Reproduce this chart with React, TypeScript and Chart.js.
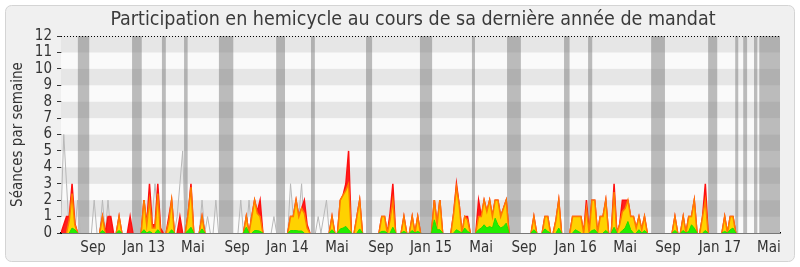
import React, { useEffect, useRef } from "react";
import { Chart, registerables } from "chart.js";

Chart.register(...registerables);

const FONT = '"DejaVu Sans Condensed", "DejaVu Sans", sans-serif';
const TITLE = "Participation en hemicycle au cours de sa dernière année de mandat";
const Y_TITLE = "Séances par semaine";

// Month tick labels and their week positions (week index from mid-June 2012)
const MONTH_LABELS = ["Sep", "Jan 13", "Mai", "Sep", "Jan 14", "Mai", "Sep", "Jan 15", "Mai", "Sep", "Jan 16", "Mai", "Sep", "Jan 17", "Mai"];
const MONTH_WEEKS = [11.6, 30.0, 47.7, 63.7, 81.9, 99.8, 115.7, 133.8, 151.9, 167.5, 186.1, 204.0, 219.5, 238.3, 256.0];

// Parliamentary vacation periods (in week indices)
const VACATIONS: [number, number][] = [
  [6.1, 10.2], [25.7, 29.2], [36.5, 37.9], [44.5, 45.8], [57.1, 62.3], [77.8, 81.0], [90.4, 91.8],
  [110.3, 112.5], [129.8, 134.2], [148.6, 149.7], [161.3, 166.3], [181.9, 183.9], [190.6, 192.1],
  [213.4, 218.4], [234.0, 237.3], [243.8, 244.9], [246.7, 248.1], [250.6, 251.8], [252.5, 260],
];

// Weekly series (261 weeks)
const presences = [
  0, 0.5, 1, 1, 3, 0.6, 0, 0, 0, 0, 0, 0, 0, 0, 0, 1, 0, 1, 1, 0,
  0, 1, 0, 0, 0, 1, 0, 0, 0, 0, 2, 0.5, 3, 0.5, 0.5, 3, 0.3, 0, 0, 1,
  2, 0, 0, 1, 0, 0, 1.2, 3, 0, 0, 0, 1, 0, 0, 0, 0, 0, 0, 0, 0,
  0, 0, 0, 0, 0, 0, 0, 1, 0, 1, 2, 1.3, 2, 0, 0, 0, 0, 0, 0, 0,
  0, 0, 0, 1, 1, 2, 1, 1.5, 2, 0.5, 0, 0, 0, 0, 0, 0, 0, 0, 1, 0,
  0, 2, 2.3, 3, 5, 0, 0, 1, 2, 0, 0, 0, 0, 0, 0, 0, 1, 1, 0, 1.2,
  3, 0, 0, 0, 1, 0, 0, 1, 0, 1, 0, 0, 0, 0, 0, 2, 0.5, 2, 0, 0,
  0, 0, 1.2, 3, 1.7, 0, 1, 1, 0, 0, 0, 2, 1, 2, 1.3, 2, 1, 2, 2, 1,
  1.5, 2, 0, 0, 0, 0, 0, 0, 0, 0, 0, 1, 0, 0, 0, 1, 1, 0, 0, 0.8,
  2, 0, 0, 0, 0, 1, 1, 1, 1, 0, 2, 0, 2, 2, 0, 1, 1, 2, 0, 0,
  3, 0, 0.5, 2, 2, 2, 1, 1, 0.3, 1, 0.2, 1, 0, 0, 0, 0, 0, 0, 0, 0,
  0, 0, 1, 0, 0, 1, 0, 1, 1, 2, 0, 0, 1, 3, 0, 0, 0, 0, 0, 0,
  1, 0, 1, 1, 0, 0, 0, 0, 0, 0, 0, 0, 0, 0, 0, 0, 0, 0, 0, 0,
  0,
];

const participations = [
  0, 0, 0, 0.8, 2.4, 0.5, 0, 0, 0, 0, 0, 0, 0, 0, 0, 1, 0, 0, 0, 0,
  0, 1, 0, 0, 0, 0, 0, 0, 0, 0, 2, 0.5, 2, 0.3, 0.3, 2.4, 0, 0, 0, 0.7,
  2, 0, 0, 0, 0, 0, 1.2, 2.8, 0, 0, 0, 1, 0, 0, 0, 0, 0, 0, 0, 0,
  0, 0, 0, 0, 0, 0, 0, 1, 0, 1, 2, 1.2, 1, 0, 0, 0, 0, 0, 0, 0,
  0, 0, 0, 1, 1, 2, 1, 1.5, 1.2, 0.3, 0, 0, 0, 0, 0, 0, 0, 0, 1, 0,
  0, 2, 2.3, 2.6, 3, 0, 0, 1, 2, 0, 0, 0, 0, 0, 0, 0, 1, 1, 0, 0.8,
  2, 0, 0, 0, 1, 0, 0, 1, 0, 1, 0, 0, 0, 0, 0, 2, 0.5, 2, 0, 0,
  0, 0, 1.2, 2.8, 1.7, 0, 1, 0.8, 0, 0, 0, 1, 1, 2, 1.3, 2, 1, 2, 2, 1,
  1.5, 2, 0, 0, 0, 0, 0, 0, 0, 0, 0, 1, 0, 0, 0, 1, 1, 0, 0, 0.8,
  2, 0, 0, 0, 0, 1, 1, 1, 1, 0, 1.5, 0, 2, 2, 0, 1, 1, 2, 0, 0,
  2.5, 0, 0.5, 1.3, 1.5, 2, 1, 1, 0.3, 1, 0.2, 1, 0, 0, 0, 0, 0, 0, 0, 0,
  0, 0, 1, 0, 0, 1, 0, 1, 1, 2, 0, 0, 1, 2, 0, 0, 0, 0, 0, 0,
  1, 0, 1, 1, 0, 0, 0, 0, 0, 0, 0, 0, 0, 0, 0, 0, 0, 0, 0, 0,
  0,
];

const questions = [
  0, 0, 0, 0, 0.3, 0.2, 0, 0, 0, 0, 0, 0, 0, 0, 0, 0.15, 0, 0, 0, 0,
  0, 0.15, 0, 0, 0, 0, 0, 0, 0, 0, 0.2, 0, 0.1, 0, 0, 0.2, 0, 0, 0, 0,
  0.2, 0, 0, 0, 0, 0, 0.15, 0.35, 0, 0, 0, 0.25, 0, 0, 0, 0, 0, 0, 0, 0,
  0, 0, 0, 0, 0, 0, 0, 0.35, 0, 0, 0.15, 0.15, 0.1, 0, 0, 0, 0, 0, 0, 0,
  0, 0, 0, 0.15, 0.15, 0.15, 0.12, 0.12, 0, 0, 0, 0, 0, 0, 0, 0, 0, 0, 0.2, 0,
  0, 0.25, 0.3, 0.4, 0.2, 0, 0, 0, 0.25, 0, 0, 0, 0, 0, 0, 0, 0.1, 0.1, 0, 0,
  0.35, 0, 0, 0, 0.1, 0, 0, 0.15, 0, 0.1, 0, 0, 0, 0, 0, 0.8, 0.2, 0.2, 0, 0,
  0, 0, 0, 0.2, 0.1, 0, 0.3, 0.1, 0, 0, 0, 0.2, 0.3, 0.5, 0.3, 0.4, 0.3, 0.9, 0.5, 0.3,
  0.4, 0.6, 0, 0, 0, 0, 0, 0, 0, 0, 0, 0.2, 0, 0, 0, 0.25, 0.1, 0, 0, 0,
  0.3, 0, 0, 0, 0, 0, 0.2, 0.1, 0, 0, 0, 0, 0.15, 0.2, 0, 0, 0, 0.15, 0, 0,
  0.35, 0, 0, 0.15, 0.3, 0.7, 0.2, 0, 0, 0.2, 0, 0.15, 0, 0, 0, 0, 0, 0, 0, 0,
  0, 0, 0.15, 0, 0, 0.15, 0, 0.1, 0.5, 0.3, 0, 0, 0, 0.15, 0, 0, 0, 0, 0, 0,
  0.1, 0, 0.2, 0.3, 0, 0, 0, 0, 0, 0, 0, 0, 0, 0, 0, 0, 0, 0, 0, 0,
  0,
];

const mediane = [
  1, 6, 3, 0, 0, 0, 2, 0, 0, 0, 0, 0, 2, 0, 0, 2, 0, 2, 0, 0,
  0, 0, 0, 0, 0, 0, 0, 0, 0, 0, 0, 0, 0, 1, 3, 1, 0, 0, 0, 0,
  0, 0, 1, 3, 5, 0, 0, 0, 0, 0, 0, 2, 0, 1, 0, 0, 2, 0, 0, 0,
  0, 0, 0, 0, 0, 2, 0, 0, 2, 0, 0, 0, 0, 0, 0, 0, 0, 1, 0, 0,
  0, 0, 0, 3, 1, 1, 1, 3, 0, 0, 0, 0, 0, 1, 0, 1, 2, 0, 0, 0,
  0, 0, 0, 0, 0, 0, 0, 0, 0, 0, 0, 0, 0, 0, 0, 0, 0, 0, 0, 0,
  0, 0, 0, 0, 0, 0, 0, 0, 0, 0, 0, 0, 0, 0, 0, 0, 0, 0, 0, 0,
  0, 0, 0, 0, 0, 0, 0, 0, 0, 0, 0, 0, 0, 0, 0, 0, 0, 0, 0, 0,
  0, 0, 0, 0, 0, 0, 0, 0, 0, 0, 0, 0, 0, 0, 0, 0, 0, 0, 0, 0,
  0, 0, 0, 0, 0, 0, 0, 0, 0, 0, 0, 0, 0, 0, 0, 0, 0, 0, 0, 0,
  0, 0, 0, 0, 0, 0, 0, 0, 0, 0, 0, 0, 0, 0, 0, 0, 0, 0, 0, 0,
  0, 0, 0, 0, 0, 0, 0, 0, 0, 0, 0, 0, 0, 0, 0, 0, 0, 0, 0, 0,
  0, 0, 0, 0, 0, 0, 0, 0, 0, 0, 0, 0, 0, 0, 0, 0, 0, 0, 0, 0,
  0,
];

// hide line segments lying flat on the zero baseline
const hideZeroSegments = {
  borderColor: (c: any) => (c.p0.parsed.y === 0 && c.p1.parsed.y === 0 ? "rgba(0,0,0,0)" : undefined),
};

const backgroundPlugin = {
  id: "hemicycleBackground",
  beforeDraw(chart: any) {
    const { ctx, width, height } = chart;
    ctx.save();
    ctx.fillStyle = "#ffffff";
    ctx.fillRect(0, 0, width, height);
    const x = 5.5, y = 5.5, w = width - 11, h = height - 11, r = 6;
    ctx.beginPath();
    ctx.moveTo(x + r, y);
    ctx.arcTo(x + w, y, x + w, y + h, r);
    ctx.arcTo(x + w, y + h, x, y + h, r);
    ctx.arcTo(x, y + h, x, y, r);
    ctx.arcTo(x, y, x + w, y, r);
    ctx.closePath();
    ctx.fillStyle = "#F0F0F0";
    ctx.fill();
    ctx.strokeStyle = "#D4D4D4";
    ctx.lineWidth = 1;
    ctx.stroke();
    ctx.fillStyle = "#3a3a3a";
    ctx.font = `19.5px ${FONT}`;
    ctx.textAlign = "center";
    ctx.textBaseline = "middle";
    ctx.fillText(TITLE, 413, 20);
    ctx.restore();
  },
  beforeDatasetsDraw(chart: any) {
    const { ctx, chartArea, scales } = chart;
    const { left, right, top, bottom } = chartArea;
    const xs = scales.x, ys = scales.y;
    ctx.save();
    for (let k = 0; k < 12; k++) {
      const y0 = ys.getPixelForValue(k);
      const y1 = ys.getPixelForValue(k + 1);
      ctx.fillStyle = k % 2 ? "#E6E6E6" : "#FAFAFA";
      ctx.fillRect(left, y1, right - left, y0 - y1);
    }
    ctx.fillStyle = "rgba(110,110,110,0.45)";
    for (const [a, b] of VACATIONS) {
      const xa = xs.getPixelForValue(a);
      const xb = xs.getPixelForValue(b);
      ctx.fillRect(xa, top, xb - xa, bottom - top);
    }
    ctx.restore();
  },
  afterDatasetsDraw(chart: any) {
    const { ctx, chartArea, scales } = chart;
    const yTop = Math.round(scales.y.getPixelForValue(12)) + 0.5;
    ctx.save();
    ctx.strokeStyle = "#000";
    ctx.lineWidth = 1;
    ctx.setLineDash([1, 2]);
    ctx.beginPath();
    ctx.moveTo(chartArea.left, yTop);
    ctx.lineTo(chartArea.right, yTop);
    ctx.stroke();
    ctx.restore();
  },
};

export default function App() {
  const ref = useRef<HTMLCanvasElement>(null);

  useEffect(() => {
    if (!ref.current) return;
    const weeks = presences.map((_, i) => i);
    const chart = new Chart(ref.current, {
      type: "line",
      data: {
        labels: weeks,
        datasets: [
          {
            label: "Questions",
            data: questions,
            borderColor: "#22DD00",
            backgroundColor: "#22EE00",
            borderWidth: 1,
            fill: "origin",
            segment: hideZeroSegments,
          },
          {
            label: "Participations",
            data: participations,
            borderColor: "#FF7A00",
            backgroundColor: "#FFD200",
            borderWidth: 1.5,
            fill: "origin",
            segment: hideZeroSegments,
          },
          {
            label: "Présences",
            data: presences,
            borderColor: "#FF1010",
            backgroundColor: "#FF2020",
            borderWidth: 1.5,
            fill: "origin",
            segment: hideZeroSegments,
          },
          {
            label: "Médiane",
            data: mediane,
            borderColor: "#B8B8B8",
            borderWidth: 1,
            fill: false,
            segment: hideZeroSegments,
          },
        ],
      },
      options: {
        responsive: false,
        animation: false,
        layout: { padding: { top: 36, right: 20, left: 0, bottom: 0 } },
        elements: { point: { radius: 0 }, line: { tension: 0 } },
        plugins: {
          legend: { display: false },
          tooltip: { enabled: false },
          title: { display: false },
        },
        scales: {
          x: {
            type: "linear",
            min: 0,
            max: 260,
            z: 1,
            grid: { display: false },
            border: { display: true, color: "#000", width: 1.5 },
            ticks: {
              autoSkip: false,
              maxRotation: 0,
              minRotation: 0,
              padding: -2,
              color: "#333",
              font: { family: FONT, size: 15 },
              callback: (_v: any, i: number) => MONTH_LABELS[i] ?? "",
            },
            afterBuildTicks: (s: any) => {
              s.ticks = MONTH_WEEKS.map((v) => ({ value: v }));
            },
            afterFit: (s: any) => {
              s.height = 34;
            },
          },
          y: {
            min: 0,
            max: 12,
            z: 1,
            ticks: {
              stepSize: 1,
              autoSkip: false,
              padding: 5,
              color: "#333",
              font: { family: FONT, size: 15 },
            },
            grid: { drawOnChartArea: false, tickLength: 4, color: "#333" },
            border: { display: true, color: "#000", width: 1 },
            title: {
              display: true,
              text: Y_TITLE,
              color: "#333",
              font: { family: FONT, size: 15 },
              padding: { top: 9, bottom: 0 },
            },
            afterFit: (s: any) => {
              s.width = 61;
            },
          },
        },
      },
      plugins: [backgroundPlugin],
    } as any);
    return () => chart.destroy();
  }, []);

  return (
    <div style={{ position: "absolute", left: 0, top: 0, width: 800, height: 267 }}>
      <canvas ref={ref} width={800} height={267} style={{ display: "block" }} />
    </div>
  );
}
